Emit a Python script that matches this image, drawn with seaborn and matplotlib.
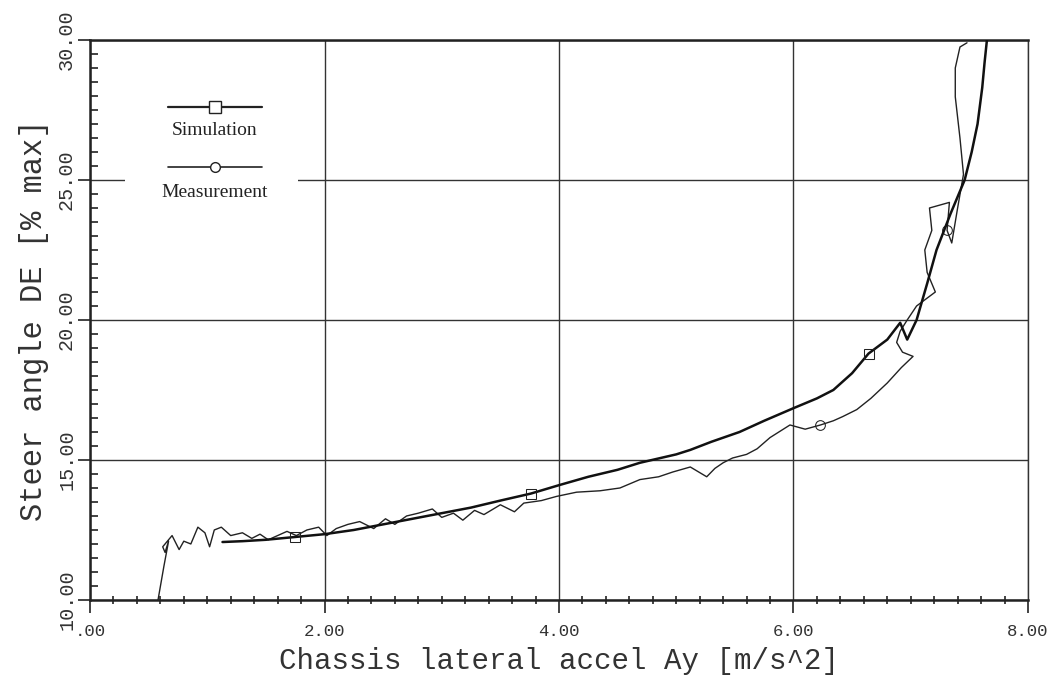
import numpy as np
import pandas as pd
import matplotlib
matplotlib.use("Agg")
import matplotlib.pyplot as plt
import seaborn as sns
from matplotlib.ticker import MultipleLocator
from matplotlib.patches import Rectangle

# ---- data ----
sim_x = [1.13, 1.30, 1.50, 1.75, 2.00, 2.25, 2.50, 2.75, 3.00, 3.25, 3.50, 3.76,
         4.00, 4.25, 4.50, 4.69, 5.00, 5.12, 5.30, 5.54, 5.75, 6.00, 6.20, 6.34,
         6.50, 6.64, 6.80, 6.91, 6.97, 7.05, 7.14, 7.22, 7.34, 7.46, 7.52, 7.57,
         7.61, 7.63, 7.65]
sim_y = [12.07, 12.10, 12.15, 12.25, 12.35, 12.50, 12.70, 12.90, 13.10, 13.30, 13.55, 13.80,
         14.10, 14.40, 14.65, 14.90, 15.20, 15.36, 15.65, 16.00, 16.40, 16.85, 17.20, 17.50,
         18.10, 18.80, 19.30, 19.90, 19.30, 20.00, 21.30, 22.50, 23.80, 25.00, 26.00, 27.00,
         28.30, 29.20, 30.00]
sim_marks = [3, 11, 25]

meas_x = [0.58, 0.63, 0.67, 0.64, 0.62, 0.70, 0.76, 0.80, 0.86, 0.92, 0.98, 1.02,
          1.06, 1.12, 1.20, 1.30, 1.38, 1.45, 1.52, 1.60, 1.68, 1.76, 1.85, 1.95,
          2.02, 2.10, 2.20, 2.30, 2.42, 2.52, 2.60, 2.70, 2.80, 2.92, 3.00, 3.10,
          3.18, 3.28, 3.36, 3.50, 3.62, 3.70, 3.85, 3.98, 4.15, 4.35, 4.52, 4.69,
          4.85, 4.97, 5.12, 5.20, 5.26, 5.33, 5.40, 5.48, 5.60, 5.69, 5.80, 5.97,
          6.10, 6.23, 6.34, 6.42, 6.54, 6.66, 6.80, 6.92, 7.02, 6.93, 6.88, 6.91,
          6.97, 7.05, 7.21, 7.14, 7.12, 7.18, 7.16, 7.33, 7.31, 7.35, 7.40, 7.45,
          7.42, 7.38, 7.38, 7.42, 7.48]
meas_y = [10.00, 11.20, 12.10, 11.70, 11.90, 12.30, 11.80, 12.10, 12.00, 12.60, 12.40, 11.90,
          12.50, 12.60, 12.30, 12.40, 12.20, 12.35, 12.15, 12.30, 12.45, 12.30, 12.50, 12.60,
          12.30, 12.55, 12.70, 12.80, 12.55, 12.90, 12.70, 13.00, 13.10, 13.25, 12.95, 13.10,
          12.85, 13.20, 13.05, 13.40, 13.15, 13.46, 13.55, 13.70, 13.85, 13.90, 14.00, 14.30,
          14.40, 14.57, 14.75, 14.55, 14.40, 14.70, 14.90, 15.07, 15.20, 15.40, 15.80, 16.25,
          16.10, 16.25, 16.40, 16.55, 16.80, 17.20, 17.75, 18.30, 18.70, 18.85, 19.20, 19.60,
          20.00, 20.50, 21.00, 21.70, 22.50, 23.20, 24.00, 24.20, 23.20, 22.75, 24.00, 25.20,
          26.50, 27.97, 29.00, 29.75, 29.90]
meas_marks = [61, 80]

x_ticks = [0, 2, 4, 6, 8]
x_ticklabels = [".00", "2.00", "4.00", "6.00", "8.00"]
y_ticks = [10, 15, 20, 25, 30]
y_ticklabels = ["10.00", "15.00", "20.00", "25.00", "30.00"]

sim_df = pd.DataFrame({"x": sim_x, "y": sim_y})
meas_df = pd.DataFrame({"x": meas_x, "y": meas_y})

sns.set_style("white")
plt.rcParams["font.family"] = ["Liberation Mono", "DejaVu Sans Mono"]

fig = plt.figure(figsize=(10.54, 6.86), dpi=100)
ax = fig.add_axes([0.0854, 0.1254, 0.8899, 0.8163])

sns.lineplot(data=meas_df, x="x", y="y", sort=False, estimator=None, ax=ax,
             color="#222222", lw=1.0, marker="o", markevery=meas_marks,
             markersize=7, markerfacecolor="none", markeredgecolor="#222222", zorder=3)
sns.lineplot(data=sim_df, x="x", y="y", sort=False, estimator=None, ax=ax,
             color="#111111", lw=1.8, marker="s", markevery=sim_marks,
             markersize=7, markerfacecolor="none", markeredgecolor="#222222", zorder=4)

ax.set_xlim(0, 8)
ax.set_ylim(10, 30)
ax.set_xticks(x_ticks)
ax.set_xticklabels(x_ticklabels, fontsize=12.5)
ax.set_yticks(y_ticks)
ax.set_yticklabels(y_ticklabels, fontsize=14.5, rotation=90, va="center")
ax.xaxis.set_minor_locator(MultipleLocator(0.2))
ax.yaxis.set_minor_locator(MultipleLocator(0.5))
ax.tick_params(axis="both", which="both", bottom=True, left=True, top=False, right=False)
ax.tick_params(axis="both", which="major", direction="out", length=9, width=1.2,
               color="#222222", labelcolor="#333333")
ax.tick_params(axis="x", which="minor", direction="inout", length=6, width=1.2, color="#222222")
ax.tick_params(axis="y", which="minor", direction="in", length=6, width=1.2, color="#222222")
ax.tick_params(axis="x", which="major", pad=8)
ax.tick_params(axis="y", which="major", pad=1)

ax.grid(True, which="major", color="#333333", lw=1.0)
for side in ["left", "bottom", "top"]:
    ax.spines[side].set_color("#222222")
    ax.spines[side].set_linewidth(1.8)
ax.spines["right"].set_color("#333333")
ax.spines["right"].set_linewidth(1.0)

ax.set_xlabel("Chassis lateral accel Ay [m/s^2]", fontsize=21, color="#333333", labelpad=6)
ax.set_ylabel("Steer angle DE [% max]", fontsize=22, color="#333333", labelpad=6)

# ---- legend (label under the sample line) ----
ax.add_patch(Rectangle((0.037, 0.70), 0.185, 0.21, transform=ax.transAxes,
                       facecolor="white", edgecolor="none", zorder=5))
ax.plot([0.083, 0.183], [0.880, 0.880], transform=ax.transAxes, color="#222222",
        lw=1.6, zorder=6)
ax.plot([0.133], [0.880], transform=ax.transAxes, marker="s", markersize=8,
        markerfacecolor="white", markeredgecolor="#222222", zorder=7, ls="none")
ax.text(0.133, 0.838, "Simulation", transform=ax.transAxes, ha="center", va="center",
        fontsize=14, color="#222222", zorder=7, family=["Liberation Serif", "DejaVu Serif"])
ax.plot([0.083, 0.183], [0.773, 0.773], transform=ax.transAxes, color="#222222",
        lw=1.2, zorder=6)
ax.plot([0.133], [0.773], transform=ax.transAxes, marker="o", markersize=7,
        markerfacecolor="white", markeredgecolor="#222222", zorder=7, ls="none")
ax.text(0.133, 0.727, "Measurement", transform=ax.transAxes, ha="center", va="center",
        fontsize=14, color="#222222", zorder=7, family=["Liberation Serif", "DejaVu Serif"])

fig.savefig("out.png", dpi=100, facecolor="white")
